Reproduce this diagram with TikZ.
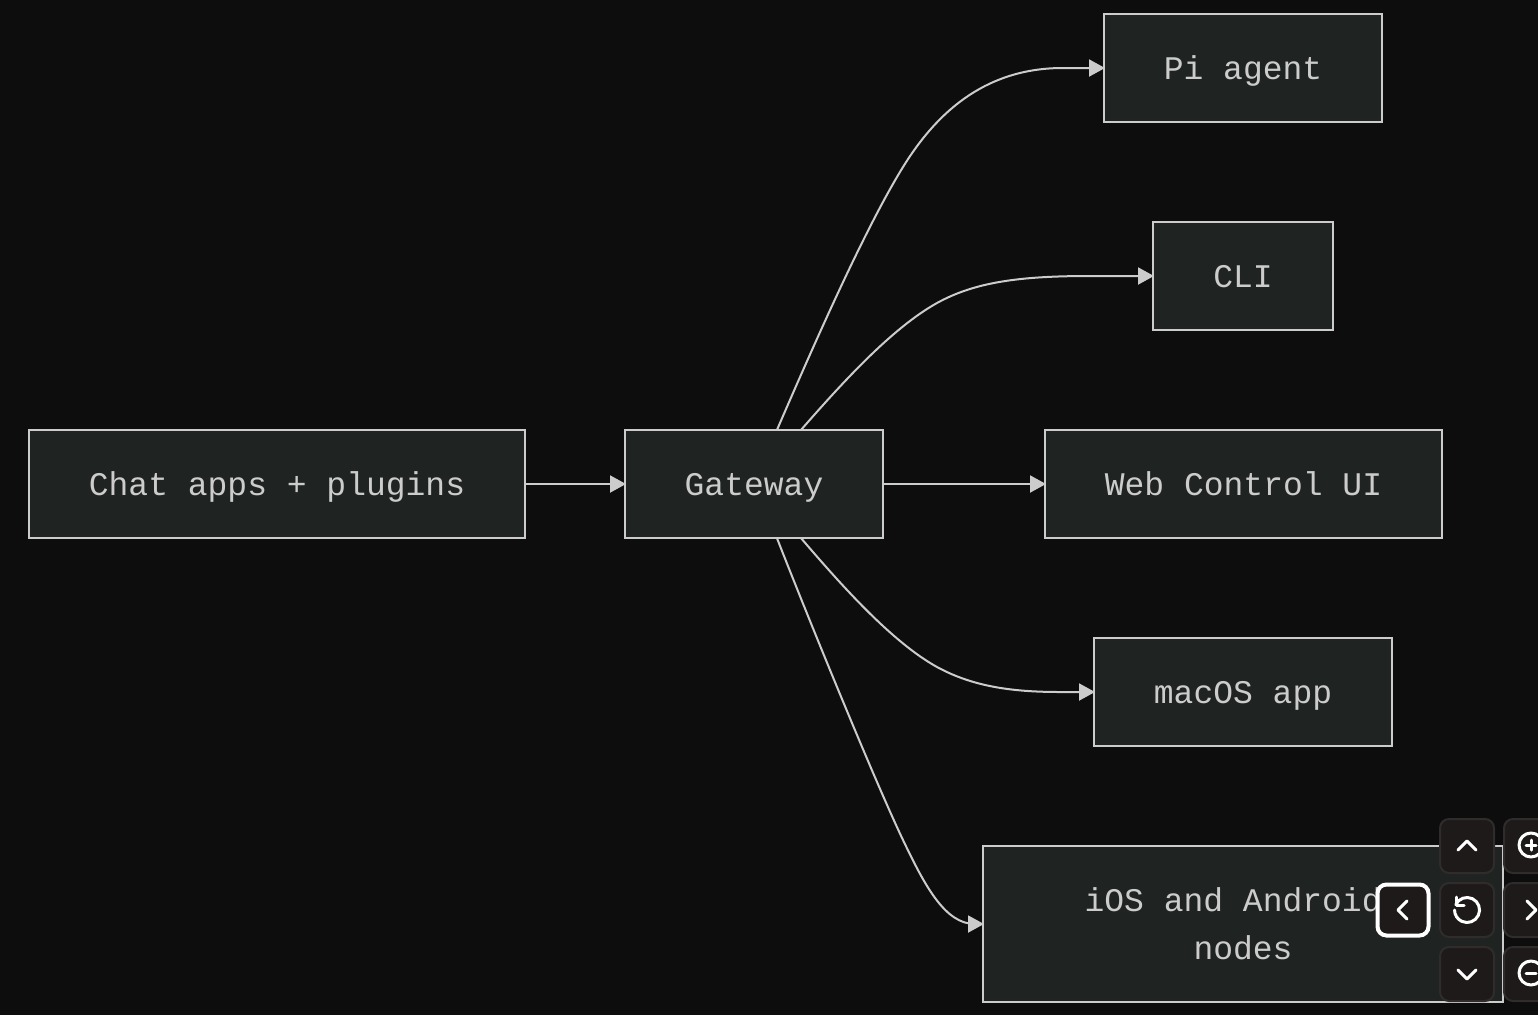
\documentclass[tikz,border=0pt]{standalone}
\usepackage{fontspec}
\setmainfont{Liberation Mono}
\usepackage{tikz}
\usetikzlibrary{arrows.meta}
\definecolor{pagebg}{HTML}{0D0D0E}
\definecolor{boxbg}{HTML}{1F2322}
\definecolor{boxline}{HTML}{CCCCCC}
\definecolor{btnbg}{HTML}{1F1A1A}
\definecolor{btnline}{HTML}{302C2C}

\begin{document}
\begin{tikzpicture}[x=1pt, y=-1pt,
		line width = 2pt,
		box/.style={draw=boxline, fill=boxbg, text=boxline, rectangle, inner sep=0pt, outer sep=0pt,
			minimum height=108pt, text height=30pt, text depth=7pt, font=\fontsize{33}{48}\selectfont},
		boxtall/.style={box, minimum height=156pt, text height=, text depth=, align=center},
		link/.style={draw=boxline, shorten >=-1pt, -{Triangle[length=16pt, width=17pt]}},
		btn/.style={draw=btnline, fill=btnbg, rectangle, rounded corners=9pt, minimum size=54pt, inner sep=0pt},
		btnactive/.style={btn, draw=white, line width=4pt, minimum size=51pt},
		icon/.style={draw=white, line width=3pt, line cap=round, line join=round}]

	\clip (0,0) rectangle (1538,1015);
	\fill[pagebg] (0,0) rectangle (1538,1015);

	\node [box, minimum width=496pt] (chat) at (277,484) {Chat apps + plugins};
	\node [box, minimum width=258pt] (gateway) at (754,484) {Gateway};
	\node [box, minimum width=278pt] (pi) at (1243,68) {Pi agent};
	\node [box, minimum width=180pt] (cli) at (1243,276) {CLI};
	\node [box, minimum width=397pt] (web) at (1243.5,484) {Web Control UI};
	\node [box, minimum width=298pt] (mac) at (1243,692) {macOS app};
	\node [boxtall, minimum width=520pt] (mobile) at (1243,924) {iOS and Android\kern19.8pt\\nodes};

	\draw [link] (chat) -- (gateway);
	\draw [link] (gateway) -- (web);
	\draw [link] (gateway.67) .. controls (818,335) and (866,227) .. (903,167)
		.. controls (940,107) and (990,68) .. (1063,68) -- (pi.west);
	\draw [link] (gateway.49) .. controls (842,383) and (892,328) .. (937,303)
		.. controls (975,282) and (1020,276) .. (1090,276) -- (cli.west);
	\draw [link] (gateway.-49) .. controls (842,586) and (892,642) .. (937,667)
		.. controls (972,686) and (1010,692) .. (1060,692) -- (mac.west);
	\draw [link] (gateway.-67) .. controls (805,610) and (873,777) .. (903,840)
		.. controls (925,886) and (945,924) .. (975,924) -- (mobile.west);

	\node [btn] (btnup) at (1467,846) {};
	\node [btn] (btnreset) at (1467,910) {};
	\node [btn] (btndown) at (1467,974) {};
	\node [btnactive] (btnleft) at (1403,910) {};
	\node [btn] (btnzoomin) at (1531,846) {};
	\node [btn] (btnright) at (1531,910) {};
	\node [btn] (btnzoomout) at (1531,974) {};

	\draw [icon] (btnup.center) ++(-9,4) -- ++(9,-9) -- ++(9,9);
	\draw [icon] (btndown.center) ++(-9,-4) -- ++(9,9) -- ++(9,-9);
	\draw [icon] (btnleft.center) ++(4,-9) -- ++(-9,9) -- ++(9,9);
	\draw [icon] (btnright.center) ++(-4,-9) -- ++(9,9) -- ++(-9,9);
	\draw [icon] (btnreset.center) ++(-11.3,-5.3) arc[start angle=205, end angle=540, radius=12.5];
	\draw [icon] (btnreset.center) ++(-11,-13) -- ++(0,8) -- ++(8,0);
	\draw [icon] (btnzoomin.center) ++(0,-1) circle[radius=12];
	\draw [icon] (btnzoomin.center) ++(-5,-1) -- ++(10,0) (btnzoomin.center) ++(0,-6) -- ++(0,10);
	\draw [icon] (btnzoomout.center) ++(0,-1) circle[radius=12];
	\draw [icon] (btnzoomout.center) ++(-5,-1) -- ++(10,0);

\end{tikzpicture}
\end{document}
